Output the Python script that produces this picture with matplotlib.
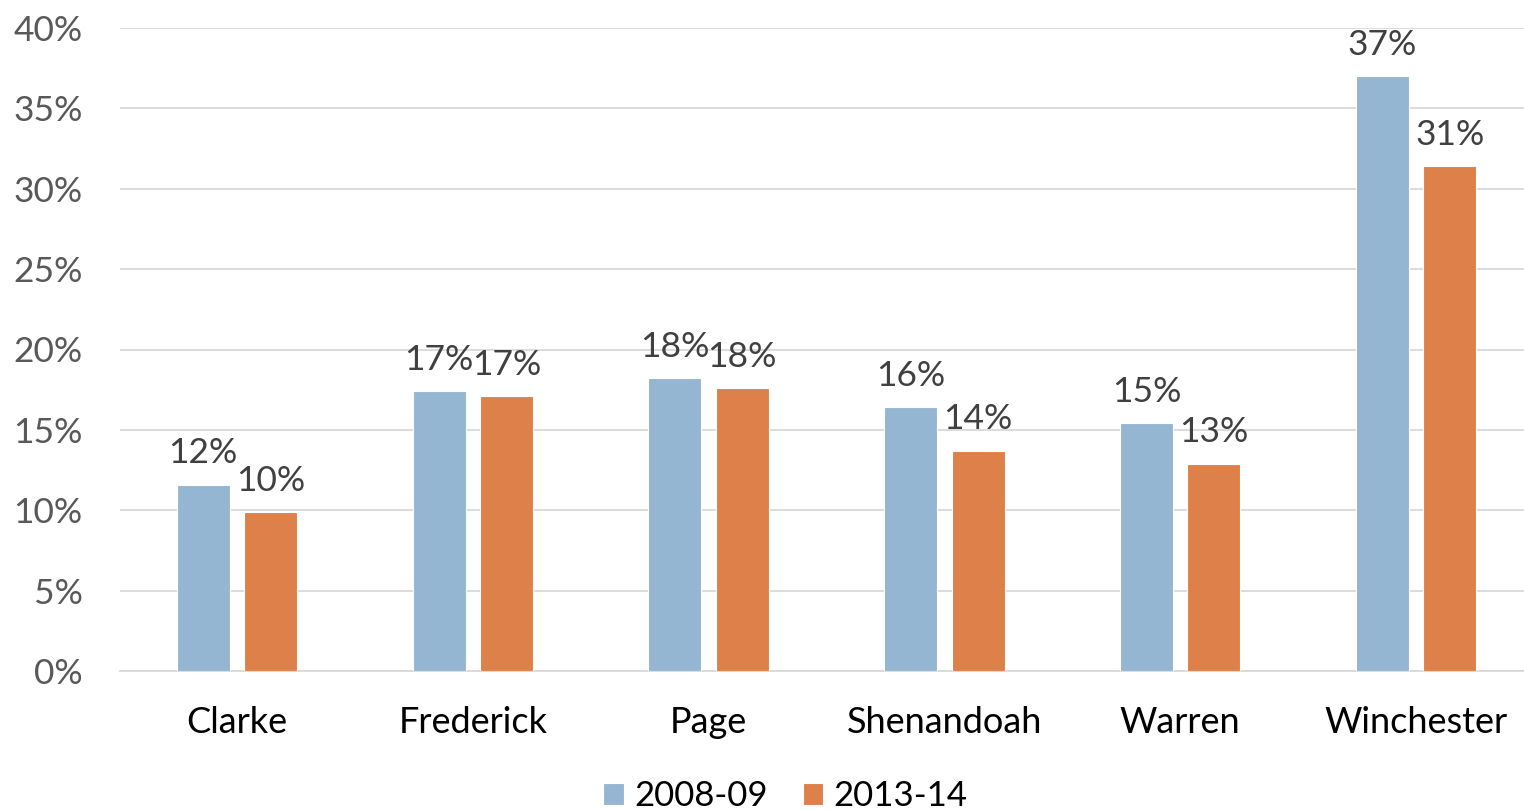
import numpy as np
import matplotlib.pyplot as plt
from matplotlib.ticker import PercentFormatter

# county values (percent)
counties = ['Clarke', 'Frederick', 'Page', 'Shenandoah', 'Warren', 'Winchester']
y2008 = [11.6, 17.4, 18.2, 16.4, 15.4, 37.0]
y2013 = [9.9, 17.1, 17.6, 13.7, 12.9, 31.4]
labels = ['2008-09', '2013-14']

blue = '#95B6D3'
orange = '#DE8049'

plt.rcParams['font.family'] = ['Lato', 'DejaVu Sans']

fig = plt.figure(figsize=(15.24, 8.1), dpi=100)
ax = fig.add_axes([120 / 1524, 1 - 671 / 810, 1404 / 1524, 643 / 810])

x = np.arange(len(counties))
w = 0.225
off = 0.143
b1 = ax.bar(x - off, y2008, w, color=blue, edgecolor='white', linewidth=0.8, label=labels[0], zorder=3)
b2 = ax.bar(x + off, y2013, w, color=orange, edgecolor='white', linewidth=0.8, label=labels[1], zorder=3)

for bars, vals in ((b1, y2008), (b2, y2013)):
    for r, v in zip(bars, vals):
        ax.annotate('%d%%' % round(v), (r.get_x() + r.get_width() / 2, v),
                    xytext=(0, 11), textcoords='offset points',
                    ha='center', va='bottom', fontsize=25.5, color='#404040')

ax.set_xlim(-0.496, 5.458)
ax.set_ylim(0, 40)
ax.set_yticks(range(0, 41, 5))
ax.yaxis.set_major_formatter(PercentFormatter(decimals=0))
ax.set_xticks(x)
ax.set_xticklabels(counties)
ax.tick_params(axis='y', length=0, pad=27, labelsize=25.5, labelcolor='#595959')
ax.tick_params(axis='x', length=0, pad=25, labelsize=26, labelcolor='black')
ax.grid(axis='y', color='#D9D9D9', linewidth=1.3, zorder=0)
for s in ['top', 'right', 'left']:
    ax.spines[s].set_visible(False)
ax.spines['bottom'].set_color('#D9D9D9')
ax.spines['bottom'].set_linewidth(1.3)

ax.legend(loc='upper center', bbox_to_anchor=(0.474, -0.148), ncol=2, frameon=False,
          fontsize=25, handlelength=0.6, handleheight=0.6, columnspacing=1.0,
          handletextpad=0.3, borderaxespad=0)

fig.savefig('out.png', dpi=100)
